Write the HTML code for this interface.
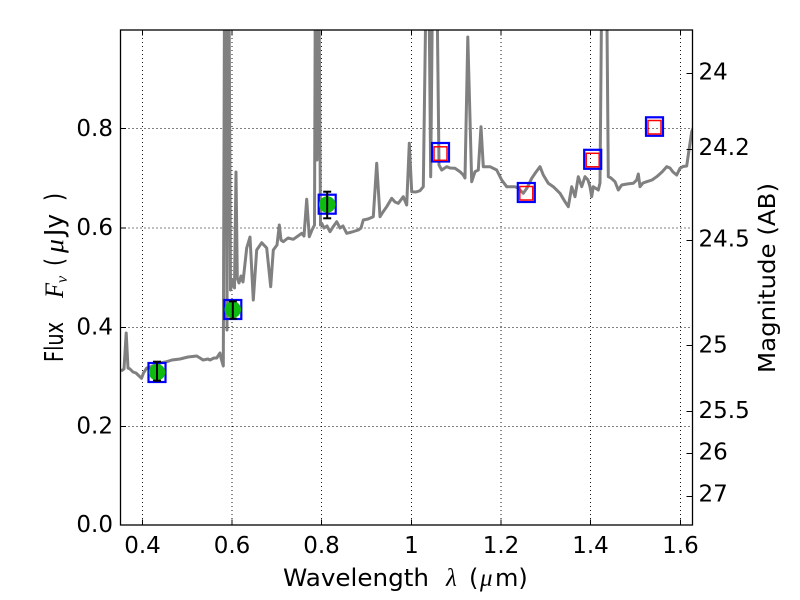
<!DOCTYPE html>
<html>
<head>
<meta charset="utf-8">
<style>
html,body{margin:0;padding:0;background:#fff;}
svg{display:block;}
.t{font-family:"DejaVu Sans","Liberation Sans",sans-serif;fill:#000;}
.m{font-family:"Liberation Serif","DejaVu Serif",serif;font-style:italic;fill:#000;}
</style>
</head>
<body>
<svg width="800" height="600" viewBox="0 0 800 600" xmlns="http://www.w3.org/2000/svg">
<defs>
<clipPath id="pa"><rect x="120.5" y="30" width="572" height="495"/></clipPath>
</defs>
<rect x="0" y="0" width="800" height="600" fill="#fff"/>

<!-- grid -->
<g stroke="#000" stroke-width="0.9" stroke-dasharray="1,3" fill="none">
<line x1="142.5" y1="30" x2="142.5" y2="525"/>
<line x1="232" y1="30" x2="232" y2="525"/>
<line x1="321.5" y1="30" x2="321.5" y2="525"/>
<line x1="411.5" y1="30" x2="411.5" y2="525"/>
<line x1="501" y1="30" x2="501" y2="525"/>
<line x1="590.5" y1="30" x2="590.5" y2="525"/>
<line x1="680.5" y1="30" x2="680.5" y2="525"/>
<line x1="120.5" y1="426.5" x2="692.5" y2="426.5"/>
<line x1="120.5" y1="327.5" x2="692.5" y2="327.5"/>
<line x1="120.5" y1="228" x2="692.5" y2="228"/>
<line x1="120.5" y1="128.5" x2="692.5" y2="128.5"/>
</g>

<!-- spectrum -->
<g clip-path="url(#pa)">
<polyline fill="none" stroke="#808080" stroke-width="3" stroke-linejoin="round" points="
121,371 124,369 126.2,333 128,368 130,369 133,372 136,373 141.5,378.3 143.5,373 146.7,368 150,367 155,365 160,363 166.7,361.7 172,360 180,359 188,357 196.7,356 200,358 203,360 208,359 210,360 214,358 216.7,358 220,353 221,358 223.3,366
224.5,-10 226,-10 227,330 227.8,-10 229,-10 230.5,290 233,280 234.5,288 236,172 237.3,278 239,283 241,276 243,282 246.7,248 250,237 253.3,300 256.7,250 261.7,242.7 266.7,248 270.7,286.7 273.3,250 277,245 279.3,225 281,240 283.3,241.7 288,238 293.3,239.3 298,236 301.7,233.3 304,236 306.7,199.3 309.3,236.7 312,230 314.5,225
315.3,-10 316.3,-10 317,160 318,-10 319,-10 320.5,225 321.7,223.3 324,228 327,226 330,231.7 333,227 336.7,221.7 340,228 343,226 346.7,233.3 352,232 358.3,230 361,228 363.3,220 368,219 373.3,216.7 376.7,163.3 380,216.7 383,212 386.7,206.7 391.7,198.3 395,202 398.3,203.3 403.3,196.7 406.7,205 409.3,143.3 411.7,191.7 416,192 420,190.7 423.3,186.7
426,-10 429,-10 430.7,176.7 432.5,-10 437,-10 439,165 441.7,170 446.7,166.7 450,168 455,168.3 460,171.7 463.3,175 465,178 467.8,37 471.7,181.7 475,171.7 478.3,170 481,126.7 483.3,166.7 490,166.7 496.7,170 501.7,180 506.7,186.7 515,186.7 518,188 523.3,193.3 527,188 531.7,178.3 536,172 540,166.7 543.3,175 548.3,183.3 553.3,186.7 560,193.3 565,201.7 568.3,206.7 571.7,186.7 575,196.7 578.3,176.7 581.7,186.7 585,176.7 588,180 590,186.7 591.7,196.7 593.3,186.7 598.3,190 600,183
601.7,-10 606.7,-10 608.3,176.7 611,178 615,181.7 618.3,190 621.7,185 627,184 633.3,183.3 636.7,180 638.3,174 640,186.7 643,183 646.7,181.7 652,180 656.7,176.7 662,172 666.7,166.7 670,168 673,172 676.7,175 680,168.3 683,166.5 686.7,166 689,150 691.7,131.7 694,126"/>
</g>

<!-- blue squares -->
<g fill="none" stroke="#0000ff" stroke-width="2.2">
<rect x="148.5" y="363" width="17" height="19"/>
<rect x="224.3" y="300" width="17" height="19"/>
<rect x="318.7" y="194.7" width="17" height="19"/>
<rect x="432" y="143" width="17" height="18.5"/>
<rect x="517.8" y="183" width="17" height="19"/>
<rect x="584.2" y="149.8" width="17" height="19"/>
<rect x="646" y="117.3" width="17" height="18.5"/>
</g>
<!-- red squares -->
<g fill="none" stroke="#ff0000" stroke-width="1.5">
<rect x="434" y="146.8" width="13" height="13.5"/>
<rect x="519.8" y="186.5" width="13" height="13.5"/>
<rect x="586.2" y="153.3" width="13" height="13.5"/>
<rect x="648" y="120.5" width="13" height="13.5"/>
</g>
<!-- green points with error bars -->
<g fill="#10bb10">
<circle cx="157" cy="372.3" r="8.3"/>
<circle cx="232.8" cy="309.6" r="8.3"/>
<circle cx="327.2" cy="204.5" r="8.3"/>
</g>
<g stroke="#000" stroke-width="2" fill="none">
<line x1="157" y1="361.7" x2="157" y2="380.7"/>
<line x1="153" y1="361.7" x2="161" y2="361.7"/>
<line x1="153" y1="380.7" x2="161" y2="380.7"/>
<line x1="232.8" y1="301.3" x2="232.8" y2="318.7"/>
<line x1="228.8" y1="301.3" x2="236.8" y2="301.3"/>
<line x1="228.8" y1="318.7" x2="236.8" y2="318.7"/>
<line x1="327.2" y1="191.7" x2="327.2" y2="218.3"/>
<line x1="323.2" y1="191.7" x2="331.2" y2="191.7"/>
<line x1="323.2" y1="218.3" x2="331.2" y2="218.3"/>
</g>

<!-- ticks -->
<g stroke="#000" stroke-width="1">
<line x1="142.5" y1="525" x2="142.5" y2="519.5"/><line x1="142.5" y1="30" x2="142.5" y2="35.5"/>
<line x1="232" y1="525" x2="232" y2="519.5"/><line x1="232" y1="30" x2="232" y2="35.5"/>
<line x1="321.5" y1="525" x2="321.5" y2="519.5"/><line x1="321.5" y1="30" x2="321.5" y2="35.5"/>
<line x1="411.5" y1="525" x2="411.5" y2="519.5"/><line x1="411.5" y1="30" x2="411.5" y2="35.5"/>
<line x1="501" y1="525" x2="501" y2="519.5"/><line x1="501" y1="30" x2="501" y2="35.5"/>
<line x1="590.5" y1="525" x2="590.5" y2="519.5"/><line x1="590.5" y1="30" x2="590.5" y2="35.5"/>
<line x1="680.5" y1="525" x2="680.5" y2="519.5"/><line x1="680.5" y1="30" x2="680.5" y2="35.5"/>
<line x1="120.5" y1="426.5" x2="126" y2="426.5"/>
<line x1="120.5" y1="327.5" x2="126" y2="327.5"/>
<line x1="120.5" y1="228" x2="126" y2="228"/>
<line x1="120.5" y1="128.5" x2="126" y2="128.5"/>
<line x1="692.5" y1="73.5" x2="686.5" y2="73.5"/>
<line x1="692.5" y1="149.5" x2="686.5" y2="149.5"/>
<line x1="692.5" y1="240.5" x2="686.5" y2="240.5"/>
<line x1="692.5" y1="345.5" x2="686.5" y2="345.5"/>
<line x1="692.5" y1="411.5" x2="686.5" y2="411.5"/>
<line x1="692.5" y1="453.5" x2="686.5" y2="453.5"/>
<line x1="692.5" y1="496.5" x2="686.5" y2="496.5"/>
</g>

<!-- frame -->
<rect x="120.5" y="30" width="572" height="495" fill="none" stroke="#000" stroke-width="1.3"/>

<!-- left tick labels -->
<g class="t" font-size="23" text-anchor="end">
<text x="113" y="532">0.0</text>
<text x="113" y="433.5">0.2</text>
<text x="113" y="334.5">0.4</text>
<text x="113" y="235">0.6</text>
<text x="113" y="136">0.8</text>
</g>
<!-- bottom tick labels -->
<g class="t" font-size="23" text-anchor="middle">
<text x="142.5" y="553">0.4</text>
<text x="232" y="553">0.6</text>
<text x="321.5" y="553">0.8</text>
<text x="411.5" y="553">1</text>
<text x="501" y="553">1.2</text>
<text x="590.5" y="553">1.4</text>
<text x="680.5" y="553">1.6</text>
</g>
<!-- right tick labels -->
<g class="t" font-size="23" text-anchor="start">
<text x="698.5" y="79.5">24</text>
<text x="698.5" y="155">24.2</text>
<text x="698.5" y="246.5">24.5</text>
<text x="698.5" y="352.5">25</text>
<text x="698.5" y="418">25.5</text>
<text x="698.5" y="459.5">26</text>
<text x="698.5" y="501.5">27</text>
</g>

<!-- x label -->
<text class="t" x="283" y="586" font-size="24" textLength="146" lengthAdjust="spacingAndGlyphs">Wavelength</text>
<text class="m" x="446" y="586" font-size="25">λ</text>
<text class="t" x="469" y="586" font-size="24">(</text>
<text class="m" x="480" y="586" font-size="25">μ</text>
<text class="t" x="495" y="586" font-size="24">m)</text>

<!-- left y label -->
<text class="t" font-size="26" transform="translate(63,362) rotate(-90)" textLength="40" lengthAdjust="spacingAndGlyphs">Flux</text>
<text class="m" font-size="26" transform="translate(63,298) rotate(-90)" textLength="15" lengthAdjust="spacingAndGlyphs">F</text>
<text class="m" font-size="16" transform="translate(67,283) rotate(-90)">ν</text>
<text class="t" font-size="26" transform="translate(63,266) rotate(-90)" textLength="8" lengthAdjust="spacingAndGlyphs">(</text>
<text class="m" font-size="26" transform="translate(63,253) rotate(-90)" textLength="14" lengthAdjust="spacingAndGlyphs">μ</text>
<text class="t" font-size="26" transform="translate(63,236) rotate(-90)" textLength="22" lengthAdjust="spacingAndGlyphs">Jy</text>
<text class="t" font-size="26" transform="translate(63,201) rotate(-90)" textLength="8" lengthAdjust="spacingAndGlyphs">)</text>

<!-- right y label -->
<text class="t" font-size="23" transform="translate(775,373) rotate(-90)" textLength="190" lengthAdjust="spacingAndGlyphs">Magnitude (AB)</text>
</svg>
</body>
</html>
